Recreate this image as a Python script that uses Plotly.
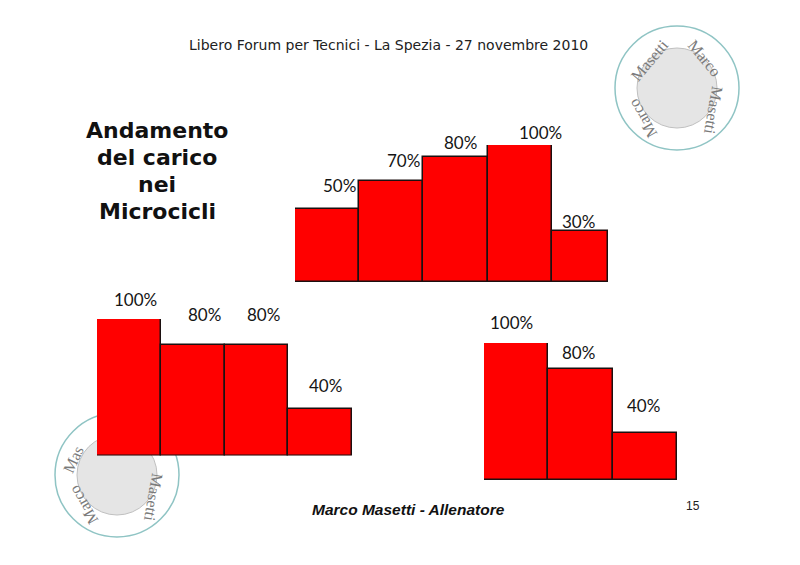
"""
Andamento del carico nei Microcicli - slide 15
"""
import plotly.graph_objects as go

W, H = 800, 565

# microciclo 1 (5 sedute)
giorni_1 = ["G1", "G2", "G3", "G4", "G5"]
etichette_1 = ["50%", "70%", "80%", "100%", "30%"]
altezze_1 = [53, 74, 91, 100, 37]  # height of the drawn bars (100 = tallest)

# microciclo 2 (4 sedute)
giorni_2 = ["G1", "G2", "G3", "G4"]
etichette_2 = ["100%", "80%", "80%", "40%"]
altezze_2 = [100, 81, 81, 34]

# microciclo 3 (3 sedute)
giorni_3 = ["G1", "G2", "G3"]
etichette_3 = ["100%", "80%", "40%"]
altezze_3 = [100, 81, 34]

RED = "#ff0000"
EDGE = "#1c1010"
LABEL_FONT = dict(family="Lato, Noto Sans, sans-serif", size=17, color="#151515")


def px_x(v):
    return v / W


def px_y(v):
    return (H - v) / H


# (x-left, x-right, y-bottom, y-top) of each plot area in pixels
boxes = [
    (295, 608, 282, 145),
    (97, 352, 455.5, 319),
    (484, 677, 480, 343),
]
widths = [[1, 1, 1, 1, 0.875], [1, 1, 1, 1], [1, 1, 1]]
# label nudges in pixels (dx, dy up)
shifts = [
    [(12, 24), (12, 20), (5, 15), (21, 12), (-5, 10)],
    [(7, 20), (12, 30), (7, 30), (5, 24)],
    [(-5, 20), (-2, 17), (-1, 28)],
]

series = [
    (giorni_1, altezze_1, etichette_1),
    (giorni_2, altezze_2, etichette_2),
    (giorni_3, altezze_3, etichette_3),
]

fig = go.Figure()
annotations = []

for i, (cats, vals, labels) in enumerate(series):
    n = i + 1
    xa = "x" if n == 1 else f"x{n}"
    ya = "y" if n == 1 else f"y{n}"
    fig.add_trace(go.Bar(
        x=cats, y=vals, width=widths[i], offset=-0.5,
        marker=dict(color=RED, line=dict(color=EDGE, width=1.5)),
        xaxis=xa, yaxis=ya, hoverinfo="skip", showlegend=False,
    ))
    x0, x1, yb, yt = boxes[i]
    fig.layout[f"xaxis{'' if n == 1 else n}"] = dict(
        domain=[px_x(x0), px_x(x1)], anchor=ya, type="category",
        range=[-0.5, -0.5 + sum(widths[i])], visible=False, fixedrange=True,
    )
    fig.layout[f"yaxis{'' if n == 1 else n}"] = dict(
        domain=[px_y(yb), px_y(yt)], anchor=xa,
        range=[0, 100], visible=False, fixedrange=True,
    )
    for c, v, lab, (dx, dy) in zip(cats, vals, labels, shifts[i]):
        annotations.append(dict(
            x=c, y=v, xref=xa, yref=ya, text=lab, showarrow=False,
            xanchor="center", yanchor="middle", xshift=dx, yshift=dy,
            font=LABEL_FONT,
        ))

# header
annotations.append(dict(
    x=px_x(388), y=px_y(45), xref="paper", yref="paper",
    text="Libero Forum per Tecnici - La Spezia - 27 novembre 2010",
    showarrow=False, xanchor="center", yanchor="middle",
    font=dict(family="DejaVu Sans, Verdana, sans-serif", size=14, color="#222222"),
))

# slide title
for k, line in enumerate(["Andamento", "del carico", "nei", "Microcicli"]):
    annotations.append(dict(
        x=px_x(157), y=px_y(130 + 27 * k), xref="paper", yref="paper",
        text=f"<b>{line}</b>", showarrow=False, xanchor="center", yanchor="middle",
        font=dict(family="DejaVu Sans, Verdana, sans-serif", size=22, color="#111111"),
    ))

# footer
annotations.append(dict(
    x=px_x(408), y=px_y(509), xref="paper", yref="paper",
    text="<b><i>Marco Masetti - Allenatore</i></b>", showarrow=False,
    xanchor="center", yanchor="middle",
    font=dict(family="Liberation Sans, Arial, sans-serif", size=15.5, color="#111111"),
))
annotations.append(dict(
    x=px_x(693), y=px_y(506), xref="paper", yref="paper", text="15",
    showarrow=False, xanchor="center", yanchor="middle",
    font=dict(family="Liberation Sans, Arial, sans-serif", size=12, color="#222222"),
))

# watermark seals
shapes = []
seal_font = dict(family="Liberation Serif, serif", size=16, color="#7a7a7a")


def seal(cx, cy, words):
    r_out, r_in = 62, 40
    shapes.append(dict(
        type="circle", xref="paper", yref="paper", layer="below",
        x0=px_x(cx - r_out), x1=px_x(cx + r_out),
        y0=px_y(cy + r_out), y1=px_y(cy - r_out),
        line=dict(color="#8fc4c4", width=1.5), fillcolor="rgba(0,0,0,0)",
    ))
    shapes.append(dict(
        type="circle", xref="paper", yref="paper", layer="below",
        x0=px_x(cx - r_in), x1=px_x(cx + r_in),
        y0=px_y(cy + r_in), y1=px_y(cy - r_in),
        line=dict(color="#c0c0c0", width=1), fillcolor="rgba(180,180,180,0.35)",
    ))
    for txt, dx, dy, ang in words:
        annotations.append(dict(
            x=px_x(cx + dx), y=px_y(cy + dy), xref="paper", yref="paper",
            text=txt, showarrow=False, textangle=ang,
            xanchor="center", yanchor="middle", font=seal_font,
        ))


seal(677, 88, [
    ("Marco", -34, 30, -120),
    ("Masetti", -28, -28, -50),
    ("Marco", 28, -30, 50),
    ("Masetti", 36, 22, 100),
])
seal(117, 475, [
    ("Marco", -34, 30, -120),
    ("Mas", -44, -16, -65),
    ("Masetti", 36, 22, 100),
])

fig.update_layout(
    width=W, height=H,
    margin=dict(l=0, r=0, t=0, b=0),
    paper_bgcolor="white", plot_bgcolor="rgba(0,0,0,0)",
    bargap=0, showlegend=False,
    annotations=annotations, shapes=shapes,
)

fig.write_html(
    "out.html",
    config={"displayModeBar": False},
    post_script="document.body.style.margin='0';",
)
